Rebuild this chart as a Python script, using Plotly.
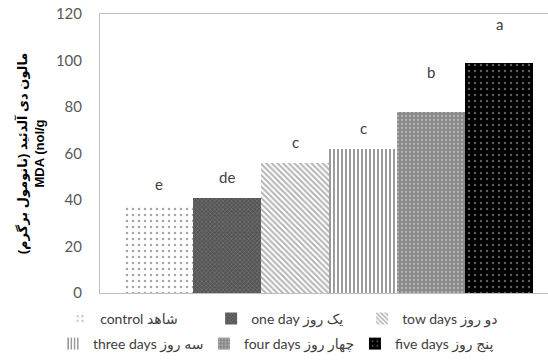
import plotly.graph_objects as go

categories = ["control", "one day", "tow days", "three days", "four days", "five days"]
legend_names = ["control شاهد", "one day یک روز", "tow days دو روز",
                "three days سه روز", "four days چهار روز", "five days پنج روز"]
values = [38, 41, 56, 62, 78, 99]
letters = ["e", "de", "c", "c", "b", "a"]
label_shift = [10, 10, 10, 10, 29, 28]

styles = [
    dict(color="#ffffff", shape=".", fg="#505050", size=6, sol=0.15),
    dict(color="#555555", shape="x", fg="#9a9a9a", size=3, sol=0.35),
    dict(color="#ffffff", shape="\\", fg="#6a6a6a", size=4, sol=0.5),
    dict(color="#ffffff", shape="|", fg="#222222", size=4, sol=0.45),
    dict(color="#8a8a8a", shape=".", fg="#e0e0e0", size=4, sol=0.25),
    dict(color="#000000", shape=".", fg="#bbbbbb", size=6, sol=0.12),
]

FONT = "Lato, 'DejaVu Sans', sans-serif"

fig = go.Figure()
for i, (cat, name, val, st) in enumerate(zip(categories, legend_names, values, styles)):
    fig.add_trace(go.Bar(
        x=[cat], y=[val], name=name, width=1,
        legend="legend" if i < 3 else "legend2",
        marker=dict(color=st["color"], line=dict(width=0),
                    pattern=dict(shape=st["shape"], fgcolor=st["fg"], size=st["size"],
                                 solidity=st["sol"], fillmode="overlay")),
        hoverinfo="skip",
    ))

for cat, val, lab, sh in zip(categories, values, letters, label_shift):
    fig.add_annotation(x=cat, y=val, text=lab, showarrow=False, yanchor="bottom",
                       yshift=sh, font=dict(size=15, color="#404040", family=FONT))

legend_common = dict(orientation="h", xanchor="left", yanchor="top",
                     entrywidthmode="pixels", itemwidth=30, traceorder="normal",
                     font=dict(size=14, color="#404040", family=FONT),
                     bgcolor="rgba(0,0,0,0)")

fig.update_layout(
    width=548, height=360,
    margin=dict(l=100, r=0, t=14, b=66),
    paper_bgcolor="white", plot_bgcolor="white",
    barmode="overlay", bargap=0,
    font=dict(family=FONT, color="#404040"),
    showlegend=True,
    legend=dict(x=-0.089, y=-0.032, entrywidth=106, **legend_common),
    legend2=dict(x=-0.105, y=-0.125, entrywidth=106, **legend_common),
    xaxis=dict(categoryorder="array", categoryarray=categories,
               range=[-0.87, 5.72], showticklabels=False, ticks="",
               showline=True, linecolor="#bfbfbf", linewidth=1, mirror=True,
               showgrid=False, zeroline=False, fixedrange=True),
    yaxis=dict(range=[0, 120], dtick=20, showgrid=False, zeroline=False,
               showline=True, linecolor="#bfbfbf", linewidth=1, ticks="",
               ticklabelstandoff=14,
               tickfont=dict(size=15, color="#595959", family=FONT),
               title=dict(text="<b>مالون دی آلدئید (نانومول برگرم)</b><br><b>MDA (nol/g</b>",
                          font=dict(size=13, color="#000000",
                                    family="'Liberation Sans', 'DejaVu Sans', sans-serif"),
                          standoff=8)),
)

fig.write_html("out.html")
